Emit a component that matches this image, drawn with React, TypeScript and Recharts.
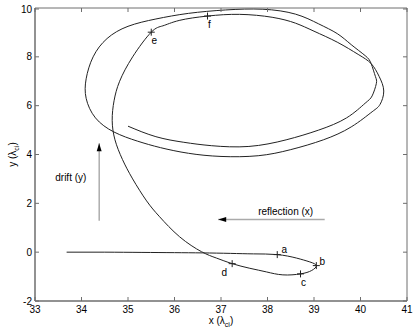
import React from 'react';
import { ComposedChart, Line, Scatter, XAxis, YAxis } from 'recharts';

const xTicks = [33, 34, 35, 36, 37, 38, 39, 40, 41];
const yTicks = [-2, 0, 2, 4, 6, 8, 10];

// trajectory (x, y) in order
const pathX = [
  33.68, 34.5, 35.3, 36.0, 36.6, 37.2, 37.7, 38.21, 38.62, 38.91, 39.05, 38.95, 38.71, 38.33, 37.98, 37.62, 37.24,
  36.9, 36.58, 36.11, 35.68, 35.4, 35.1, 34.88, 34.72, 34.66, 34.7, 34.82, 35.1, 35.5,
  35.75, 36.1, 36.71, 37.4, 38.1, 38.6, 39.0, 39.5, 39.95, 40.23, 40.4, 40.5, 40.42, 40.25, 39.8, 39.2, 38.5, 37.8,
  37.0, 36.3, 35.7, 35.2, 34.7, 34.3, 34.1, 34.1, 34.25, 34.55, 35.0, 35.6, 36.3, 37.1, 37.9, 38.6, 39.1, 39.5,
  39.8, 40.1, 40.23, 40.32, 40.34, 40.25, 40.1, 39.7, 39.1, 38.4, 37.6, 36.8, 36.2, 35.6, 35.0,
];
const pathY = [
  0.0, 0.0, -0.01, -0.02, -0.03, -0.05, -0.07, -0.1, -0.24, -0.4, -0.55, -0.75, -0.89, -0.93, -0.81, -0.66, -0.47,
  -0.24, 0.02, 0.63, 1.45, 2.1, 3.0, 3.8, 4.6, 5.4, 6.2, 7.0, 8.0, 9.01,
  9.27, 9.49, 9.67, 9.74, 9.62, 9.38, 9.05, 8.6, 8.1, 7.72, 7.2, 6.6, 6.05, 5.75, 5.13, 4.6, 4.2, 3.95,
  3.92, 4.05, 4.28, 4.55, 4.92, 5.5, 6.3, 7.1, 8.0, 8.75, 9.25, 9.55, 9.78, 9.92, 9.95, 9.75, 9.35, 8.95,
  8.5, 8.05, 7.72, 7.2, 6.9, 6.4, 6.1, 5.5, 5.0, 4.6, 4.33, 4.36, 4.5, 4.73, 5.16,
];

const markerNames = ['a', 'b', 'c', 'd', 'e', 'f'];
const markerX = [38.21, 39.05, 38.71, 37.24, 35.5, 36.71];
const markerY = [-0.1, -0.55, -0.89, -0.47, 9.01, 9.67];
const markerLabelDx = [7, 6, 3, -8, 3, 2];
const markerLabelDy = [-5, -4, 9, 9, 8, 8];

const driftArrowX = [34.38, 34.38];
const driftArrowY = [1.29, 4.46];
const reflArrowX = [39.23, 36.94];
const reflArrowY = [1.34, 1.34];

const noteTexts = ['drift (y)', 'reflection (x)'];
const noteX = [33.77, 38.39];
const noteY = [3.04, 1.67];

const FONT = '"Liberation Sans", Arial, Helvetica, sans-serif';
const AXIS = '#6e6e6e';

const zip = (xs: number[], ys: number[]) => xs.map((x, i) => ({ x, y: ys[i] }));
const pathData = zip(pathX, pathY);
const driftData = zip(driftArrowX, driftArrowY);
const reflData = zip(reflArrowX, reflArrowY);
const markerData = markerNames.map((n, i) => ({ x: markerX[i], y: markerY[i], name: n, dx: markerLabelDx[i], dy: markerLabelDy[i] }));
const noteData = noteTexts.map((t, i) => ({ x: noteX[i], y: noteY[i], text: t }));

const BottomTick = (p: any) => (
  <g>
    <line x1={p.x} x2={p.x} y1={p.y} y2={p.y - 4} stroke={AXIS} strokeWidth={1} />
    <text x={p.x} y={p.y + 12} textAnchor="middle" fontSize={10} fontFamily={FONT} fill="#000">
      {String(p.payload.value)}
    </text>
  </g>
);
const TopTick = (p: any) => (
  <line x1={p.x} x2={p.x} y1={p.y} y2={p.y + 4} stroke={AXIS} strokeWidth={1} />
);
const LeftTick = (p: any) => (
  <g>
    <line x1={p.x} x2={p.x + 4} y1={p.y} y2={p.y} stroke={AXIS} strokeWidth={1} />
    <text x={p.x - 3} y={p.y + 3.5} textAnchor="end" fontSize={10} fontFamily={FONT} fill="#000">
      {String(p.payload.value)}
    </text>
  </g>
);
const RightTick = (p: any) => (
  <line x1={p.x} x2={p.x - 4} y1={p.y} y2={p.y} stroke={AXIS} strokeWidth={1} />
);

const upHead = (p: any) =>
  p.index === 1 ? (
    <path key={p.index} d={`M${p.cx},${p.cy} L${p.cx - 2.5},${p.cy + 8} L${p.cx + 2.5},${p.cy + 8} Z`} fill="#000" />
  ) : (
    <g key={p.index} />
  );
const leftHead = (p: any) =>
  p.index === 1 ? (
    <path key={p.index} d={`M${p.cx},${p.cy} L${p.cx + 8},${p.cy - 2.5} L${p.cx + 8},${p.cy + 2.5} Z`} fill="#000" />
  ) : (
    <g key={p.index} />
  );

const MarkerShape = (p: any) => {
  const { cx, cy, payload } = p;
  return (
    <g>
      <line x1={cx - 3.5} x2={cx + 3.5} y1={cy} y2={cy} stroke="#222" strokeWidth={1} />
      <line x1={cx} x2={cx} y1={cy - 3.5} y2={cy + 3.5} stroke="#222" strokeWidth={1} />
      <text x={cx + payload.dx} y={cy + payload.dy + 3.5} textAnchor="middle" fontSize={10} fontFamily={FONT} fill="#000">
        {payload.name}
      </text>
    </g>
  );
};

const NoteShape = (p: any) => (
  <text x={p.cx} y={p.cy + 3.5} textAnchor="middle" fontSize={10} fontFamily={FONT} fill="#000">
    {p.payload.text}
  </text>
);

const XLabel = (p: any) => {
  const vb = p.viewBox;
  return (
    <text x={vb.x + vb.width / 2} y={vb.y + 23} textAnchor="middle" fontSize={10} fontFamily={FONT} fill="#000">
      x (λ<tspan dy={3} fontSize={7}>ci</tspan>
      <tspan dy={-3}>)</tspan>
    </text>
  );
};
const YLabel = (p: any) => {
  const vb = p.viewBox;
  const cx = 16;
  const cy = vb.y + vb.height / 2;
  return (
    <text x={cx} y={cy} transform={`rotate(-90 ${cx} ${cy})`} textAnchor="middle" fontSize={10} fontFamily={FONT} fill="#000">
      y (λ<tspan dy={3} fontSize={7}>ci</tspan>
      <tspan dy={-3}>)</tspan>
    </text>
  );
};

export default function App() {
  return (
    <div style={{ position: 'absolute', left: 0, top: 0, background: '#fff' }}>
      <ComposedChart width={415} height={329} margin={{ top: 0, right: 0, bottom: 0, left: 0 }}>
        <XAxis
          dataKey="x"
          type="number"
          domain={[33, 41]}
          ticks={xTicks}
          allowDataOverflow
          height={28}
          tickSize={0}
          tickMargin={0}
          tick={BottomTick}
          axisLine={{ stroke: AXIS, strokeWidth: 1.5 }}
          label={{ content: XLabel }}
        />
        <XAxis
          xAxisId="top"
          orientation="top"
          dataKey="x"
          type="number"
          domain={[33, 41]}
          ticks={xTicks}
          allowDataOverflow
          height={8}
          tickSize={0}
          tickMargin={0}
          tick={TopTick}
          axisLine={{ stroke: AXIS, strokeWidth: 1 }}
        />
        <YAxis
          dataKey="y"
          type="number"
          domain={[-2, 10]}
          ticks={yTicks}
          allowDataOverflow
          width={35}
          tickSize={0}
          tickMargin={0}
          tick={LeftTick}
          axisLine={{ stroke: AXIS, strokeWidth: 1.5 }}
          label={{ content: YLabel }}
        />
        <YAxis
          yAxisId="right"
          orientation="right"
          dataKey="y"
          type="number"
          domain={[-2, 10]}
          ticks={yTicks}
          allowDataOverflow
          width={8}
          tickSize={0}
          tickMargin={0}
          tick={RightTick}
          axisLine={{ stroke: AXIS, strokeWidth: 1 }}
        />
        <Line data={pathData} dataKey="y" type="natural" stroke="#222" strokeWidth={1} dot={false} activeDot={false} isAnimationActive={false} />
        <Line data={driftData} dataKey="y" type="linear" stroke="#999" strokeWidth={1.2} dot={upHead} activeDot={false} isAnimationActive={false} />
        <Line data={reflData} dataKey="y" type="linear" stroke="#aaa" strokeWidth={1.5} dot={leftHead} activeDot={false} isAnimationActive={false} />
        <Scatter data={markerData} dataKey="y" shape={MarkerShape} isAnimationActive={false} />
        <Scatter data={noteData} dataKey="y" shape={NoteShape} isAnimationActive={false} />
      </ComposedChart>
    </div>
  );
}
